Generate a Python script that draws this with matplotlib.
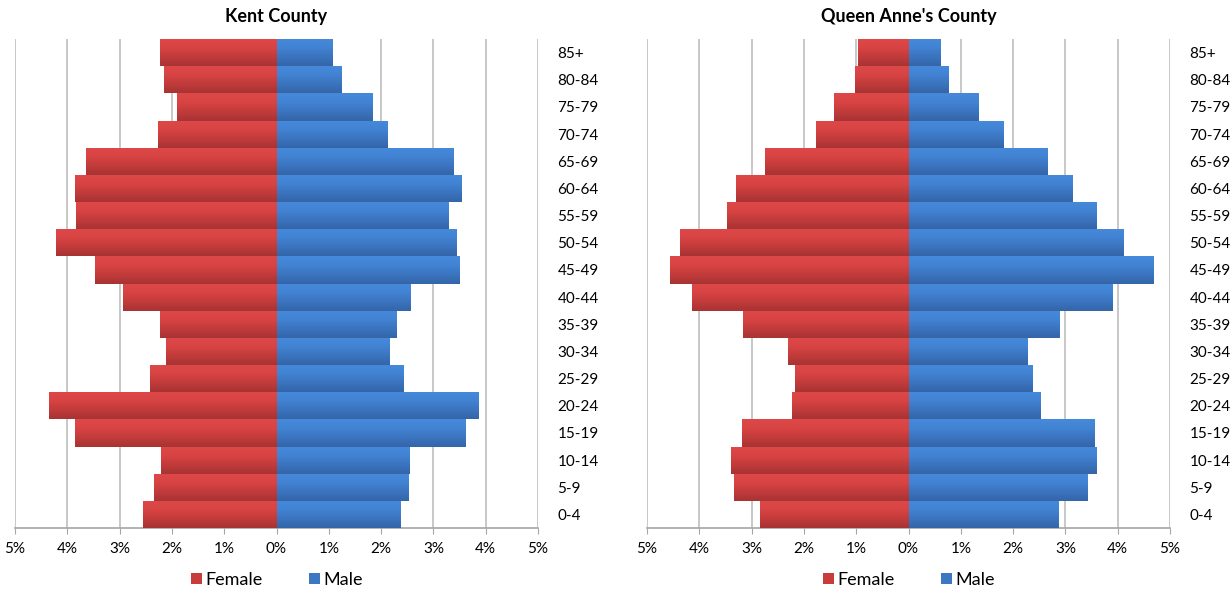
import matplotlib.pyplot as plt
import numpy as np
from matplotlib.colors import LinearSegmentedColormap
from matplotlib.patches import Patch

plt.rcParams['font.family'] = ['Lato', 'DejaVu Sans']

age_groups = ['0-4', '5-9', '10-14', '15-19', '20-24', '25-29', '30-34', '35-39',
              '40-44', '45-49', '50-54', '55-59', '60-64', '65-69', '70-74', '75-79',
              '80-84', '85+']

# percent of population, bottom (0-4) to top (85+)
kent_female = [2.56, 2.34, 2.20, 3.85, 4.35, 2.41, 2.11, 2.22, 2.93, 3.47,
               4.21, 3.84, 3.86, 3.65, 2.26, 1.90, 2.15, 2.22]
kent_male = [2.37, 2.51, 2.53, 3.61, 3.85, 2.41, 2.15, 2.29, 2.56, 3.49,
             3.43, 3.27, 3.52, 3.37, 2.12, 1.82, 1.24, 1.07]
qa_female = [2.83, 3.34, 3.40, 3.19, 2.22, 2.17, 2.30, 3.16, 4.14, 4.56,
             4.37, 3.47, 3.29, 2.74, 1.77, 1.42, 1.02, 0.96]
qa_male = [2.85, 3.42, 3.58, 3.54, 2.51, 2.36, 2.27, 2.87, 3.90, 4.67,
           4.11, 3.58, 3.12, 2.64, 1.80, 1.32, 0.76, 0.61]

red_cmap = LinearSegmentedColormap.from_list('r', ['#de4848', '#d84343', '#c23b3b', '#a83333'])
blue_cmap = LinearSegmentedColormap.from_list('b', ['#4689da', '#4283d3', '#3b74bf', '#3465a8'])
grad = np.linspace(0, 1, 64).reshape(-1, 1)


def pyramid(ax, female, male, title):
    y = np.arange(len(age_groups))
    for vals, sign, cmap, base in [(female, -1, red_cmap, '#c93c3c'),
                                   (male, 1, blue_cmap, '#3d77c2')]:
        bars = ax.barh(y, sign * np.array(vals), height=1.0, color=base,
                       edgecolor='none', zorder=2)
        # excel-ish vertical gradient on each bar
        for b in bars:
            x0, y0 = b.get_x(), b.get_y()
            w, h = b.get_width(), b.get_height()
            im = ax.imshow(grad, cmap=cmap, aspect='auto', origin='upper',
                           extent=(min(x0, x0 + w), max(x0, x0 + w), y0, y0 + h),
                           zorder=3)
            im.set_clip_path(b)
    ax.set_xlim(-5, 5)
    ax.set_ylim(-0.5, len(age_groups) - 0.5)
    ax.set_xticks(range(-5, 6))
    ax.set_xticklabels([f'{abs(v)}%' for v in range(-5, 6)], fontsize=11)
    ax.set_yticks(y)
    ax.set_yticklabels(age_groups, fontsize=11)
    ax.yaxis.tick_right()
    ax.tick_params(axis='y', length=0, pad=14)
    ax.tick_params(axis='x', length=4, color='#a6a6a6', pad=6)
    ax.grid(axis='x', color='#bfbfbf', linewidth=1.2, zorder=0)
    ax.set_axisbelow(True)
    for s in ['top', 'right', 'left']:
        ax.spines[s].set_visible(False)
    ax.spines['bottom'].set_color('#a6a6a6')
    ax.spines['bottom'].set_linewidth(1.2)
    ax.set_title(title, fontsize=13, fontweight='bold', pad=12)


fig = plt.figure(figsize=(12.32, 5.96), dpi=100)
ax1 = fig.add_axes([15 / 1232, 68 / 596, 523 / 1232, 489 / 596])
ax2 = fig.add_axes([647 / 1232, 68 / 596, 523 / 1232, 489 / 596])
pyramid(ax1, kent_female, kent_male, 'Kent County')
pyramid(ax2, qa_female, qa_male, "Queen Anne's County")

handles = [Patch(facecolor='#c93c3c', label='Female'), Patch(facecolor='#3d77c2', label='Male')]
for cx in [277 / 1232, 909 / 1232]:
    fig.legend(handles=handles, loc='center', bbox_to_anchor=(cx, 1 - 580 / 596),
               ncol=2, frameon=False, fontsize=13, handlelength=0.6, handleheight=0.6,
               handletextpad=0.2, columnspacing=2.6)

fig.savefig('out.png', dpi=100)
